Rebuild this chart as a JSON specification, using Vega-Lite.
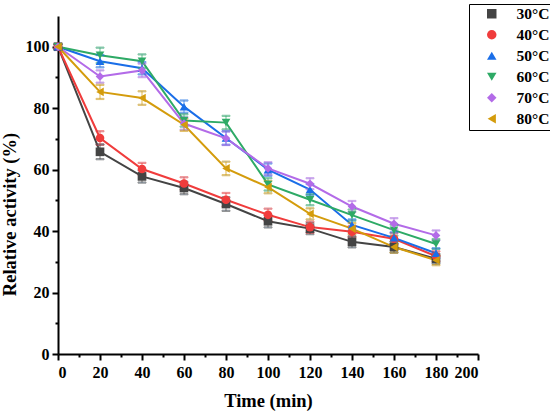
{
  "$schema": "https://vega.github.io/schema/vega-lite/v6.json",
  "width": 420,
  "height": 338,
  "autosize": {"type": "none"},
  "padding": {"left": 58, "top": 16, "right": 72, "bottom": 60},
  "background": "white",
  "data": {
    "values": [
      {"t": 0, "v": 100, "err": 0.8, "temp": "30°C"},
      {"t": 20, "v": 65.8, "err": 2.4, "temp": "30°C"},
      {"t": 40, "v": 57.8, "err": 2.0, "temp": "30°C"},
      {"t": 60, "v": 54.0, "err": 2.0, "temp": "30°C"},
      {"t": 80, "v": 48.8, "err": 2.2, "temp": "30°C"},
      {"t": 100, "v": 43.2, "err": 2.0, "temp": "30°C"},
      {"t": 120, "v": 40.8, "err": 1.8, "temp": "30°C"},
      {"t": 140, "v": 36.5, "err": 1.8, "temp": "30°C"},
      {"t": 160, "v": 34.8, "err": 1.8, "temp": "30°C"},
      {"t": 180, "v": 31.0, "err": 1.6, "temp": "30°C"},
      {"t": 0, "v": 100, "err": 0.8, "temp": "40°C"},
      {"t": 20, "v": 70.3, "err": 2.2, "temp": "40°C"},
      {"t": 40, "v": 60.2, "err": 2.0, "temp": "40°C"},
      {"t": 60, "v": 55.5, "err": 2.0, "temp": "40°C"},
      {"t": 80, "v": 50.2, "err": 2.2, "temp": "40°C"},
      {"t": 100, "v": 45.3, "err": 2.0, "temp": "40°C"},
      {"t": 120, "v": 41.3, "err": 1.8, "temp": "40°C"},
      {"t": 140, "v": 39.8, "err": 1.8, "temp": "40°C"},
      {"t": 160, "v": 37.5, "err": 1.8, "temp": "40°C"},
      {"t": 180, "v": 31.8, "err": 1.6, "temp": "40°C"},
      {"t": 0, "v": 100, "err": 0.8, "temp": "50°C"},
      {"t": 20, "v": 95.3, "err": 2.0, "temp": "50°C"},
      {"t": 40, "v": 93.0, "err": 2.0, "temp": "50°C"},
      {"t": 60, "v": 80.5, "err": 2.0, "temp": "50°C"},
      {"t": 80, "v": 70.3, "err": 2.2, "temp": "50°C"},
      {"t": 100, "v": 60.0, "err": 2.0, "temp": "50°C"},
      {"t": 120, "v": 53.5, "err": 1.8, "temp": "50°C"},
      {"t": 140, "v": 42.0, "err": 1.8, "temp": "50°C"},
      {"t": 160, "v": 37.8, "err": 1.8, "temp": "50°C"},
      {"t": 180, "v": 32.8, "err": 1.6, "temp": "50°C"},
      {"t": 0, "v": 100, "err": 0.8, "temp": "60°C"},
      {"t": 20, "v": 97.2, "err": 2.5, "temp": "60°C"},
      {"t": 40, "v": 95.3, "err": 2.2, "temp": "60°C"},
      {"t": 60, "v": 76.0, "err": 2.0, "temp": "60°C"},
      {"t": 80, "v": 75.3, "err": 2.2, "temp": "60°C"},
      {"t": 100, "v": 55.2, "err": 2.0, "temp": "60°C"},
      {"t": 120, "v": 50.2, "err": 1.8, "temp": "60°C"},
      {"t": 140, "v": 45.2, "err": 1.8, "temp": "60°C"},
      {"t": 160, "v": 40.3, "err": 1.8, "temp": "60°C"},
      {"t": 180, "v": 35.8, "err": 1.6, "temp": "60°C"},
      {"t": 0, "v": 100, "err": 0.8, "temp": "70°C"},
      {"t": 20, "v": 90.3, "err": 2.0, "temp": "70°C"},
      {"t": 40, "v": 92.3, "err": 2.2, "temp": "70°C"},
      {"t": 60, "v": 75.0, "err": 2.0, "temp": "70°C"},
      {"t": 80, "v": 70.2, "err": 2.2, "temp": "70°C"},
      {"t": 100, "v": 60.4, "err": 2.0, "temp": "70°C"},
      {"t": 120, "v": 55.4, "err": 1.8, "temp": "70°C"},
      {"t": 140, "v": 48.0, "err": 1.8, "temp": "70°C"},
      {"t": 160, "v": 42.4, "err": 1.8, "temp": "70°C"},
      {"t": 180, "v": 38.6, "err": 1.6, "temp": "70°C"},
      {"t": 0, "v": 100, "err": 0.8, "temp": "80°C"},
      {"t": 20, "v": 85.3, "err": 2.3, "temp": "80°C"},
      {"t": 40, "v": 83.3, "err": 2.2, "temp": "80°C"},
      {"t": 60, "v": 74.6, "err": 2.0, "temp": "80°C"},
      {"t": 80, "v": 60.4, "err": 2.2, "temp": "80°C"},
      {"t": 100, "v": 54.3, "err": 2.0, "temp": "80°C"},
      {"t": 120, "v": 45.6, "err": 1.8, "temp": "80°C"},
      {"t": 140, "v": 40.8, "err": 1.8, "temp": "80°C"},
      {"t": 160, "v": 34.8, "err": 1.8, "temp": "80°C"},
      {"t": 180, "v": 30.5, "err": 1.6, "temp": "80°C"}
    ]
  },
  "encoding": {
    "x": {
      "field": "t",
      "type": "quantitative",
      "scale": {"domain": [0, 200], "nice": false},
      "axis": {
        "title": "Time (min)",
        "values": [0, 10, 20, 30, 40, 50, 60, 70, 80, 90, 100, 110, 120, 130, 140, 150, 160, 170, 180, 190, 200],
        "labelExpr": "datum.value % 20 === 0 ? datum.label : ''",
        "tickSize": {"condition": {"test": "datum.value % 20 === 0", "value": 6}, "value": 3},
        "labelPadding": 4,
        "titlePadding": 11
      }
    },
    "y": {
      "field": "v",
      "type": "quantitative",
      "scale": {"domain": [0, 110], "nice": false},
      "axis": {
        "title": "Relative activity  (%)",
        "values": [0, 10, 20, 30, 40, 50, 60, 70, 80, 90, 100],
        "labelExpr": "datum.value % 20 === 0 ? datum.label : ''",
        "tickSize": {"condition": {"test": "datum.value % 20 === 0", "value": 6}, "value": 3},
        "labelPadding": 3,
        "titlePadding": 6,
        "titleY": 198
      }
    }
  },
  "layer": [
    {
      "mark": {"type": "line", "strokeWidth": 2},
      "encoding": {
        "stroke": {
          "field": "temp",
          "type": "nominal",
          "scale": {
            "range": ["#444444", "#f03c3c", "#1a6ee8", "#2eaa66", "#b36be8", "#d49c0c"]
          },
          "legend": null
        }
      }
    },
    {
      "mark": {"type": "errorbar", "ticks": {"size": 8}, "thickness": 1.2, "opacity": 0.6},
      "encoding": {
        "yError": {"field": "err"},
        "stroke": {"field": "temp", "type": "nominal", "legend": null}
      }
    },
    {
      "mark": {"type": "point", "filled": true, "size": 75, "opacity": 1},
      "encoding": {
        "shape": {
          "field": "temp",
          "type": "nominal",
          "scale": {
            "domain": ["30°C", "40°C", "50°C", "60°C", "70°C", "80°C"],
            "range": ["square", "circle", "triangle-up", "triangle-down", "diamond", "triangle-left"]
          }
        },
        "color": {
          "field": "temp",
          "type": "nominal",
          "scale": {
            "domain": ["30°C", "40°C", "50°C", "60°C", "70°C", "80°C"],
            "range": ["#444444", "#f03c3c", "#1a6ee8", "#2eaa66", "#b36be8", "#d49c0c"]
          },
          "legend": {
            "title": null,
            "orient": "none",
            "legendX": 411,
            "legendY": -12,
            "strokeColor": "black",
            "padding": 2,
            "symbolSize": 90,
            "symbolOffset": 13,
            "symbolStrokeWidth": 0,
            "labelOffset": 17,
            "rowPadding": 4,
            "labelFont": "Liberation Serif",
            "labelFontWeight": "bold",
            "labelFontSize": 15.5,
            "labelColor": "black"
          }
        }
      }
    }
  ],
  "config": {
    "view": {"stroke": null},
    "font": "Liberation Serif",
    "axis": {
      "grid": false,
      "domainColor": "black",
      "domainWidth": 2,
      "tickColor": "black",
      "tickWidth": 2,
      "labelFont": "Liberation Serif",
      "labelFontWeight": "bold",
      "labelFontSize": 16,
      "labelColor": "black",
      "titleFont": "Liberation Serif",
      "titleFontWeight": "bold",
      "titleFontSize": 18.5,
      "titleColor": "black"
    }
  }
}
